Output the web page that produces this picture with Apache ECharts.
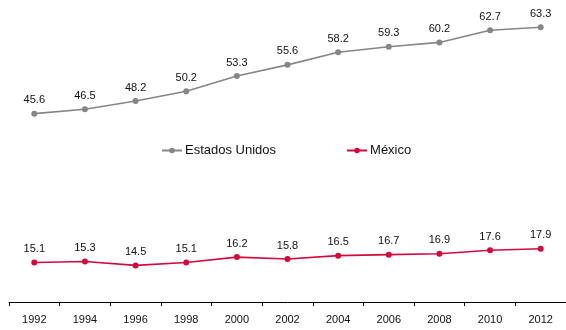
<!DOCTYPE html>
<html>
<head>
<meta charset="utf-8">
<script src="https://cdn.jsdelivr.net/npm/echarts@6/dist/echarts.min.js"></script>
<style>
  html, body { margin: 0; padding: 0; background: #fff; }
  #chart { width: 566px; height: 330px; }
</style>
</head>
<body>
<div id="chart"></div>
<script>
// Years on the horizontal axis
const years = ['1992', '1994', '1996', '1998', '2000', '2002', '2004', '2006', '2008', '2010', '2012'];
// Series values
const estadosUnidos = [45.6, 46.5, 48.2, 50.2, 53.3, 55.6, 58.2, 59.3, 60.2, 62.7, 63.3];
const mexico = [15.1, 15.3, 14.5, 15.1, 16.2, 15.8, 16.5, 16.7, 16.9, 17.6, 17.9];

const font = 'Liberation Sans, Arial, sans-serif';

function lineSeries(name, data, color) {
  return {
    name: name,
    type: 'line',
    data: data,
    symbol: 'circle',
    symbolSize: 6,
    lineStyle: { color: color, width: 1.6 },
    itemStyle: { color: color },
    label: {
      show: true,
      position: 'top',
      distance: 5,
      color: '#111',
      fontFamily: font,
      fontSize: 11,
      formatter: p => p.value.toFixed(1)
    },
    animation: false
  };
}

const chart = echarts.init(document.getElementById('chart'));
chart.setOption({
  backgroundColor: '#fff',
  grid: { left: 9, right: -2, top: 19, bottom: 28 },
  legend: {
    left: 156,
    top: 139,
    itemGap: 70,
    itemWidth: 20,
    itemHeight: 7,
    textStyle: { fontFamily: font, fontSize: 13, color: '#111', padding: [0, 0, 0, -2] },
    data: ['Estados Unidos', 'México']
  },
  xAxis: {
    type: 'category',
    data: years,
    boundaryGap: true,
    axisLine: { lineStyle: { color: '#000', width: 1 } },
    axisTick: { show: true, length: 4, lineStyle: { color: '#000' } },
    axisLabel: { color: '#111', fontFamily: font, fontSize: 11, margin: 12 }
  },
  yAxis: {
    type: 'value',
    min: 7,
    max: 65,
    show: false,
    splitLine: { show: false }
  },
  series: [
    lineSeries('Estados Unidos', estadosUnidos, '#868686'),
    lineSeries('México', mexico, '#d20a3c')
  ]
});
</script>
</body>
</html>
